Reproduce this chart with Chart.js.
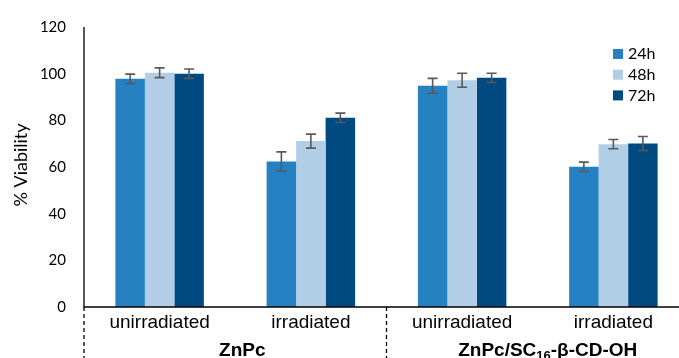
<!DOCTYPE html>
<html>
<head>
<meta charset="utf-8">
<script src="https://cdn.jsdelivr.net/npm/chart.js@4"></script>
<style>
  html, body { margin: 0; padding: 0; background: #fff; overflow: hidden; }
  #wrap { width: 690px; height: 358px; }
</style>
</head>
<body>
<div id="wrap"><canvas id="myChart" width="690" height="358"></canvas></div>
<script>
// categories and groups
var categories = ['unirradiated', 'irradiated', 'unirradiated', 'irradiated'];
var groups = ['ZnPc', 'ZnPc/SC16-β-CD-OH'];
var seriesNames = ['24h', '48h', '72h'];

// % viability per series
var v24 = [97.8, 62.4, 94.8, 60.1];
var v48 = [100.4, 71.1, 97.2, 69.8];
var v72 = [100.0, 81.1, 98.2, 70.1];

// error bars (+/-)
var e24 = [2.0, 4.1, 3.2, 2.0];
var e48 = [2.1, 3.0, 3.0, 2.0];
var e72 = [2.0, 2.0, 2.0, 3.0];

var yTicks = [0, 20, 40, 60, 80, 100, 120];

var colors = ['#2681c2', '#b2cde6', '#004a82'];

var values = [v24, v48, v72];
var errors = [e24, e48, e72];

var extras = {
  id: 'extras',
  afterDatasetsDraw: function(chart) {
    var ctx = chart.ctx;
    var y = chart.scales.y;
    var x = chart.scales.x;
    var area = chart.chartArea;

    // error bars
    ctx.save();
    ctx.strokeStyle = '#595959';
    ctx.lineWidth = 1.6;
    chart.data.datasets.forEach(function(ds, i) {
      var meta = chart.getDatasetMeta(i);
      meta.data.forEach(function(bar, j) {
        var v = values[i][j], e = errors[i][j];
        var top = y.getPixelForValue(v + e);
        var bot = y.getPixelForValue(v - e);
        ctx.beginPath();
        ctx.moveTo(bar.x, top); ctx.lineTo(bar.x, bot);
        ctx.moveTo(bar.x - 5, top); ctx.lineTo(bar.x + 5, top);
        ctx.moveTo(bar.x - 5, bot); ctx.lineTo(bar.x + 5, bot);
        ctx.stroke();
      });
    });
    ctx.restore();

    // axis lines
    ctx.save();
    ctx.strokeStyle = '#000';
    ctx.lineWidth = 1.3;
    ctx.beginPath();
    ctx.moveTo(area.left, area.top);
    ctx.lineTo(area.left, area.bottom);
    ctx.lineTo(area.right, area.bottom);
    ctx.stroke();

    // dashed group separators
    var step = x.getPixelForTick(1) - x.getPixelForTick(0);
    ctx.setLineDash([4, 3]);
    [area.left, x.getPixelForTick(1) + step / 2].forEach(function(px) {
      ctx.beginPath();
      ctx.moveTo(px, area.bottom);
      ctx.lineTo(px, chart.height);
      ctx.stroke();
    });
    ctx.restore();

    // group labels
    ctx.save();
    ctx.fillStyle = '#000';
    ctx.textBaseline = 'alphabetic';
    var base = 356;
    var g1 = (x.getPixelForTick(0) + x.getPixelForTick(1)) / 2 + 7;
    ctx.font = 'bold 19px "Liberation Sans", Arial, sans-serif';
    ctx.textAlign = 'center';
    ctx.fillText(groups[0], g1, base);

    var g2 = (x.getPixelForTick(2) + x.getPixelForTick(3)) / 2 + 10;
    var parts = [['ZnPc/SC', 19, 0], ['16', 13, 4], ['-β-CD-OH', 19, 0]];
    var total = 0;
    parts.forEach(function(p) {
      ctx.font = 'bold ' + p[1] + 'px "Liberation Sans", Arial, sans-serif';
      total += ctx.measureText(p[0]).width;
    });
    var cx = g2 - total / 2;
    ctx.textAlign = 'left';
    parts.forEach(function(p) {
      ctx.font = 'bold ' + p[1] + 'px "Liberation Sans", Arial, sans-serif';
      ctx.fillText(p[0], cx, base + p[2]);
      cx += ctx.measureText(p[0]).width;
    });
    ctx.restore();

    // y title
    ctx.save();
    ctx.fillStyle = '#000';
    ctx.font = '18px Lato, sans-serif';
    ctx.textAlign = 'center';
    ctx.textBaseline = 'middle';
    ctx.translate(21, 165);
    ctx.rotate(-Math.PI / 2);
    ctx.fillText('% Viability', 0, 0);
    ctx.restore();

    // legend
    ctx.save();
    ctx.font = '16px Lato, sans-serif';
    ctx.textAlign = 'left';
    ctx.textBaseline = 'middle';
    seriesNames.forEach(function(name, i) {
      var ly = 54 + i * 20.7;
      ctx.fillStyle = colors[i];
      ctx.fillRect(613, ly - 5, 10, 10);
      ctx.fillStyle = '#000';
      ctx.fillText(name, 628, ly);
    });
    ctx.restore();
  }
};

var ctx = document.getElementById('myChart').getContext('2d');

var myChart = new Chart(ctx, {
  type: 'bar',
  data: {
    labels: categories,
    datasets: seriesNames.map(function(name, i) {
      return {
        label: name,
        data: values[i],
        backgroundColor: colors[i],
        borderWidth: 0
      };
    })
  },
  options: {
    responsive: false,
    animation: false,
    layout: { padding: { top: 25, right: 1, left: 0, bottom: 0 } },
    plugins: {
      legend: { display: false },
      tooltip: { enabled: false }
    },
    datasets: {
      bar: { categoryPercentage: 0.585, barPercentage: 1.0 }
    },
    scales: {
      x: {
        grid: { display: false, drawTicks: false },
        border: { display: false },
        ticks: {
          color: '#000',
          padding: 4,
          font: { family: '"Liberation Sans", Arial, sans-serif', size: 19 },
          maxRotation: 0,
          autoSkip: false
        },
        afterFit: function(s) { s.height = 51; }
      },
      y: {
        min: 0,
        max: 120,
        afterBuildTicks: function(s) { s.ticks = yTicks.map(function(v) { return { value: v }; }); },
        grid: { display: false, drawTicks: false },
        border: { display: false },
        ticks: {
          color: '#000',
          padding: 18,
          font: { family: 'Lato, sans-serif', size: 15 }
        },
        afterFit: function(s) { s.width = 84; }
      }
    }
  },
  plugins: [extras]
});
</script>
</body>
</html>
